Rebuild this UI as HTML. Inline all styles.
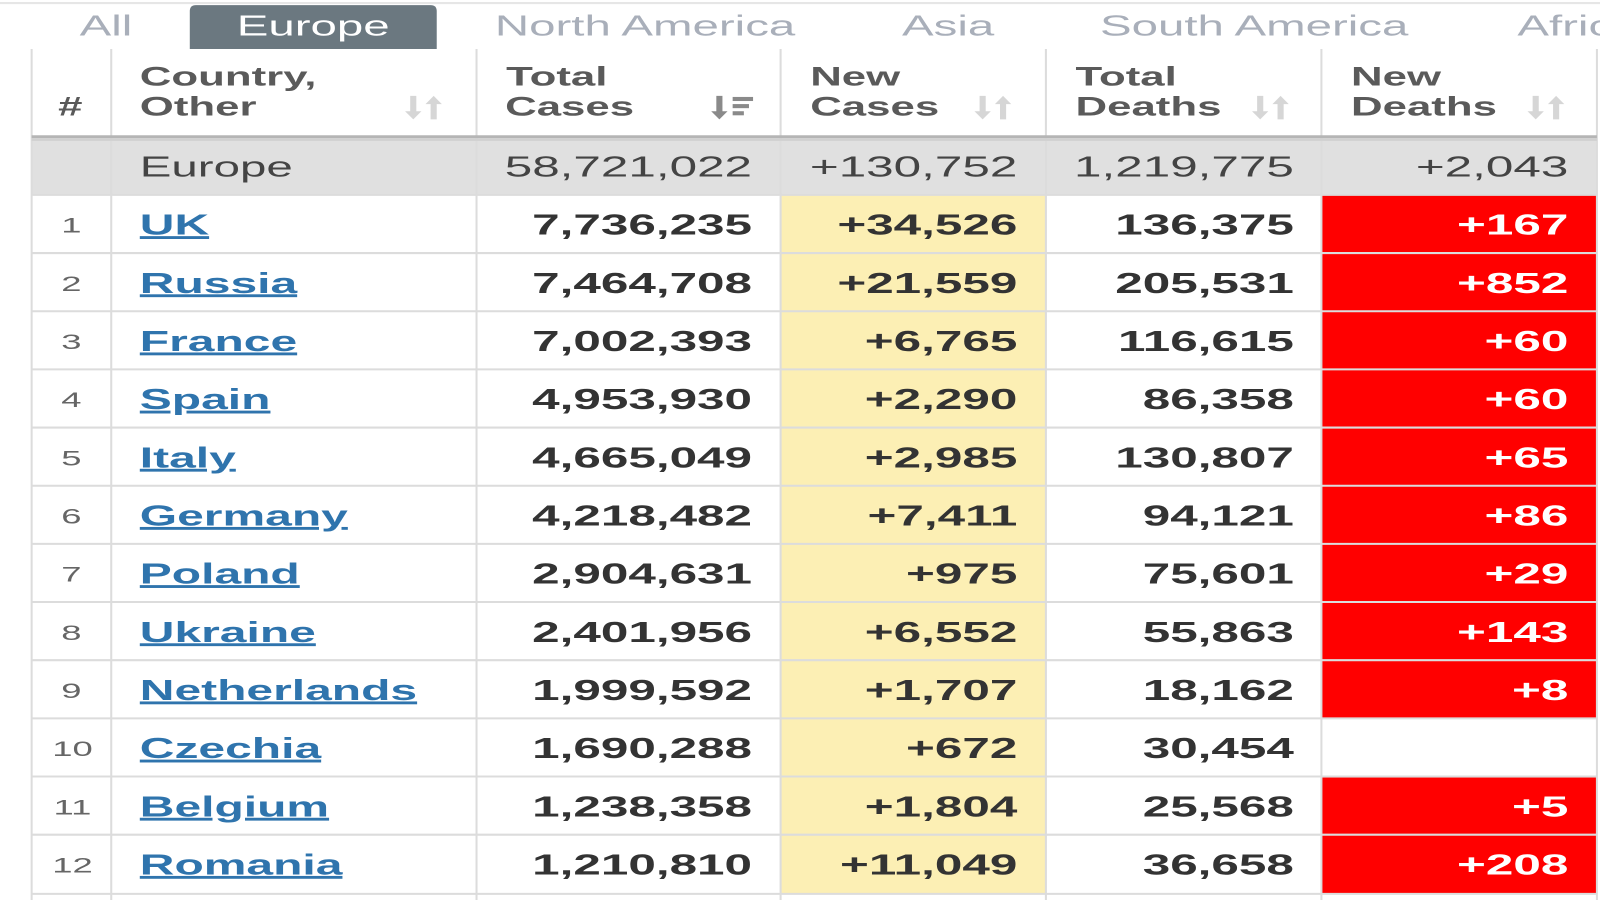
<!DOCTYPE html>
<html><head><meta charset="utf-8"><style>
html,body{margin:0;padding:0;background:#fff;width:1600px;height:900px;overflow:hidden}
svg{display:block}
text{font-family:"Liberation Sans",Arial,sans-serif}
.tab{font-size:28px;fill:#a9afba}
.hd{font-size:26px;font-weight:bold;fill:#5a5a5a}
.n{font-size:28px;font-weight:bold;fill:#333}
.w{font-size:28px;font-weight:bold;fill:#fff}
.c{font-size:28px;font-weight:bold;fill:#2f74ad;text-decoration:underline}
.r{font-size:21px;fill:#666}
.e{font-size:28px;fill:#444}
</style></head><body>
<svg width="1600" height="900" viewBox="0 0 1600 900" xmlns="http://www.w3.org/2000/svg">
<rect width="1600" height="900" fill="#fff"/>
<g transform="scale(1.0204)">
<line x1="0" y1="3" x2="1600" y2="3" stroke="#e6e6e6" stroke-width="2"/>
<path d="M186,48 V11 Q186,5 192,5 H422 Q428,5 428,11 V48 Z" fill="#6b7880"/>
<text class="tab" transform="translate(78,35) scale(1.66,1)">All</text>
<text class="tab" style="fill:#fff" transform="translate(232,35) scale(1.66,1)">Europe</text>
<text class="tab" transform="translate(485,35) scale(1.66,1)">North America</text>
<text class="tab" transform="translate(884,35) scale(1.66,1)">Asia</text>
<text class="tab" transform="translate(1078,35) scale(1.66,1)">South America</text>
<text class="tab" transform="translate(1487,35) scale(1.66,1)">Africa</text>
<rect x="31" y="135" width="1534" height="56" fill="#e0e0e0"/>
<rect x="765" y="191" width="260" height="685" fill="#fcefb4"/>
<rect x="1295" y="191" width="270" height="513" fill="#ff0000"/>
<rect x="1295" y="762" width="270" height="114" fill="#ff0000"/>
<g stroke="#dcdcdc" stroke-width="2">
<line x1="31" y1="48" x2="31" y2="882"/>
<line x1="109" y1="48" x2="109" y2="882"/>
<line x1="467" y1="48" x2="467" y2="882"/>
<line x1="765" y1="48" x2="765" y2="882"/>
<line x1="1025" y1="48" x2="1025" y2="882"/>
<line x1="1295" y1="48" x2="1295" y2="882"/>
<line x1="1565" y1="48" x2="1565" y2="882"/>
<line x1="31" y1="191" x2="1565" y2="191"/>
<line x1="31" y1="248" x2="1565" y2="248"/>
<line x1="31" y1="305" x2="1565" y2="305"/>
<line x1="31" y1="362" x2="1565" y2="362"/>
<line x1="31" y1="419" x2="1565" y2="419"/>
<line x1="31" y1="476" x2="1565" y2="476"/>
<line x1="31" y1="533" x2="1565" y2="533"/>
<line x1="31" y1="590" x2="1565" y2="590"/>
<line x1="31" y1="647" x2="1565" y2="647"/>
<line x1="31" y1="704" x2="1565" y2="704"/>
<line x1="31" y1="761" x2="1565" y2="761"/>
<line x1="31" y1="818" x2="1565" y2="818"/>
<line x1="31" y1="876" x2="1565" y2="876"/>
</g>
<line x1="31" y1="134" x2="1565" y2="134" stroke="#b5b5b5" stroke-width="3"/>
<line x1="31" y1="137" x2="1565" y2="137" stroke="#d0d0d0" stroke-width="2"/>
<text class="hd" transform="translate(57,113) scale(1.65,1)">#</text>
<text class="hd" transform="translate(137,84) scale(1.65,1)">Country,</text>
<text class="hd" transform="translate(137,113) scale(1.65,1)">Other</text>
<text class="hd" transform="translate(496,84) scale(1.65,1)">Total</text>
<text class="hd" transform="translate(495,113) scale(1.65,1)">Cases</text>
<text class="hd" transform="translate(794,84) scale(1.65,1)">New</text>
<text class="hd" transform="translate(794,113) scale(1.65,1)">Cases</text>
<text class="hd" transform="translate(1054,84) scale(1.65,1)">Total</text>
<text class="hd" transform="translate(1054,113) scale(1.65,1)">Deaths</text>
<text class="hd" transform="translate(1324,84) scale(1.65,1)">New</text>
<text class="hd" transform="translate(1324,113) scale(1.65,1)">Deaths</text>
<g fill="#d6d6d6">
<path id="si" d="M402,94 h6 v15 h5 l-8,8 l-8,-8 h5 z M422,117 h6 v-15 h5 l-8,-8 l-8,8 h5 z"/>
<use href="#si" x="558"/>
<use href="#si" x="830"/>
<use href="#si" x="1100"/>
</g>
<g fill="#8a8a8a">
<path d="M702,94 h6 v15 h5 l-8,8 l-8,-8 h5 z"/>
<rect x="718" y="95" width="20" height="4"/><rect x="718" y="102" width="16" height="4"/><rect x="718" y="109" width="11" height="4"/>
</g>
<text class="e" transform="translate(137,173) scale(1.66,1)">Europe</text>
<g text-anchor="end">
<text class="e" transform="translate(737,173) scale(1.73,1)">58,721,022</text>
<text class="e" transform="translate(997,173) scale(1.73,1)">+130,752</text>
<text class="e" transform="translate(1268,173) scale(1.73,1)">1,219,775</text>
<text class="e" transform="translate(1537,173) scale(1.73,1)">+2,043</text>
</g>
<g text-anchor="middle">
<text class="r" transform="translate(70,228) scale(1.7,1)">1</text>
<text class="r" transform="translate(70,285) scale(1.7,1)">2</text>
<text class="r" transform="translate(70,342) scale(1.7,1)">3</text>
<text class="r" transform="translate(70,399) scale(1.7,1)">4</text>
<text class="r" transform="translate(70,456) scale(1.7,1)">5</text>
<text class="r" transform="translate(70,513) scale(1.7,1)">6</text>
<text class="r" transform="translate(70,570) scale(1.7,1)">7</text>
<text class="r" transform="translate(70,627) scale(1.7,1)">8</text>
<text class="r" transform="translate(70,684) scale(1.7,1)">9</text>
<text class="r" transform="translate(71,741) scale(1.7,1)">10</text>
<text class="r" transform="translate(71,798) scale(1.7,1)">11</text>
<text class="r" transform="translate(71,855) scale(1.7,1)">12</text>
</g>
<text class="c" transform="translate(137,230) scale(1.68,1)">UK</text>
<text class="c" transform="translate(137,287) scale(1.68,1)">Russia</text>
<text class="c" transform="translate(137,344) scale(1.68,1)">France</text>
<text class="c" transform="translate(137,401) scale(1.68,1)">Spain</text>
<text class="c" transform="translate(137,458) scale(1.68,1)">Italy</text>
<text class="c" transform="translate(137,515) scale(1.68,1)">Germany</text>
<text class="c" transform="translate(137,572) scale(1.68,1)">Poland</text>
<text class="c" transform="translate(137,629) scale(1.68,1)">Ukraine</text>
<text class="c" transform="translate(137,686) scale(1.68,1)">Netherlands</text>
<text class="c" transform="translate(137,743) scale(1.68,1)">Czechia</text>
<text class="c" transform="translate(137,800) scale(1.68,1)">Belgium</text>
<text class="c" transform="translate(137,857) scale(1.68,1)">Romania</text>
<g text-anchor="end">
<text class="n" transform="translate(737,230) scale(1.73,1)">7,736,235</text>
<text class="n" transform="translate(737,287) scale(1.73,1)">7,464,708</text>
<text class="n" transform="translate(737,344) scale(1.73,1)">7,002,393</text>
<text class="n" transform="translate(737,401) scale(1.73,1)">4,953,930</text>
<text class="n" transform="translate(737,458) scale(1.73,1)">4,665,049</text>
<text class="n" transform="translate(737,515) scale(1.73,1)">4,218,482</text>
<text class="n" transform="translate(737,572) scale(1.73,1)">2,904,631</text>
<text class="n" transform="translate(737,629) scale(1.73,1)">2,401,956</text>
<text class="n" transform="translate(737,686) scale(1.73,1)">1,999,592</text>
<text class="n" transform="translate(737,743) scale(1.73,1)">1,690,288</text>
<text class="n" transform="translate(737,800) scale(1.73,1)">1,238,358</text>
<text class="n" transform="translate(737,857) scale(1.73,1)">1,210,810</text>
<text class="n" transform="translate(997,230) scale(1.73,1)">+34,526</text>
<text class="n" transform="translate(997,287) scale(1.73,1)">+21,559</text>
<text class="n" transform="translate(997,344) scale(1.73,1)">+6,765</text>
<text class="n" transform="translate(997,401) scale(1.73,1)">+2,290</text>
<text class="n" transform="translate(997,458) scale(1.73,1)">+2,985</text>
<text class="n" transform="translate(997,515) scale(1.73,1)">+7,411</text>
<text class="n" transform="translate(997,572) scale(1.73,1)">+975</text>
<text class="n" transform="translate(997,629) scale(1.73,1)">+6,552</text>
<text class="n" transform="translate(997,686) scale(1.73,1)">+1,707</text>
<text class="n" transform="translate(997,743) scale(1.73,1)">+672</text>
<text class="n" transform="translate(997,800) scale(1.73,1)">+1,804</text>
<text class="n" transform="translate(997,857) scale(1.73,1)">+11,049</text>
<text class="n" transform="translate(1268,230) scale(1.73,1)">136,375</text>
<text class="n" transform="translate(1268,287) scale(1.73,1)">205,531</text>
<text class="n" transform="translate(1268,344) scale(1.73,1)">116,615</text>
<text class="n" transform="translate(1268,401) scale(1.73,1)">86,358</text>
<text class="n" transform="translate(1268,458) scale(1.73,1)">130,807</text>
<text class="n" transform="translate(1268,515) scale(1.73,1)">94,121</text>
<text class="n" transform="translate(1268,572) scale(1.73,1)">75,601</text>
<text class="n" transform="translate(1268,629) scale(1.73,1)">55,863</text>
<text class="n" transform="translate(1268,686) scale(1.73,1)">18,162</text>
<text class="n" transform="translate(1268,743) scale(1.73,1)">30,454</text>
<text class="n" transform="translate(1268,800) scale(1.73,1)">25,568</text>
<text class="n" transform="translate(1268,857) scale(1.73,1)">36,658</text>
<text class="w" transform="translate(1537,230) scale(1.73,1)">+167</text>
<text class="w" transform="translate(1537,287) scale(1.73,1)">+852</text>
<text class="w" transform="translate(1537,344) scale(1.73,1)">+60</text>
<text class="w" transform="translate(1537,401) scale(1.73,1)">+60</text>
<text class="w" transform="translate(1537,458) scale(1.73,1)">+65</text>
<text class="w" transform="translate(1537,515) scale(1.73,1)">+86</text>
<text class="w" transform="translate(1537,572) scale(1.73,1)">+29</text>
<text class="w" transform="translate(1537,629) scale(1.73,1)">+143</text>
<text class="w" transform="translate(1537,686) scale(1.73,1)">+8</text>
<text class="w" transform="translate(1537,800) scale(1.73,1)">+5</text>
<text class="w" transform="translate(1537,857) scale(1.73,1)">+208</text>
</g>
</g>
</svg>
</body></html>
